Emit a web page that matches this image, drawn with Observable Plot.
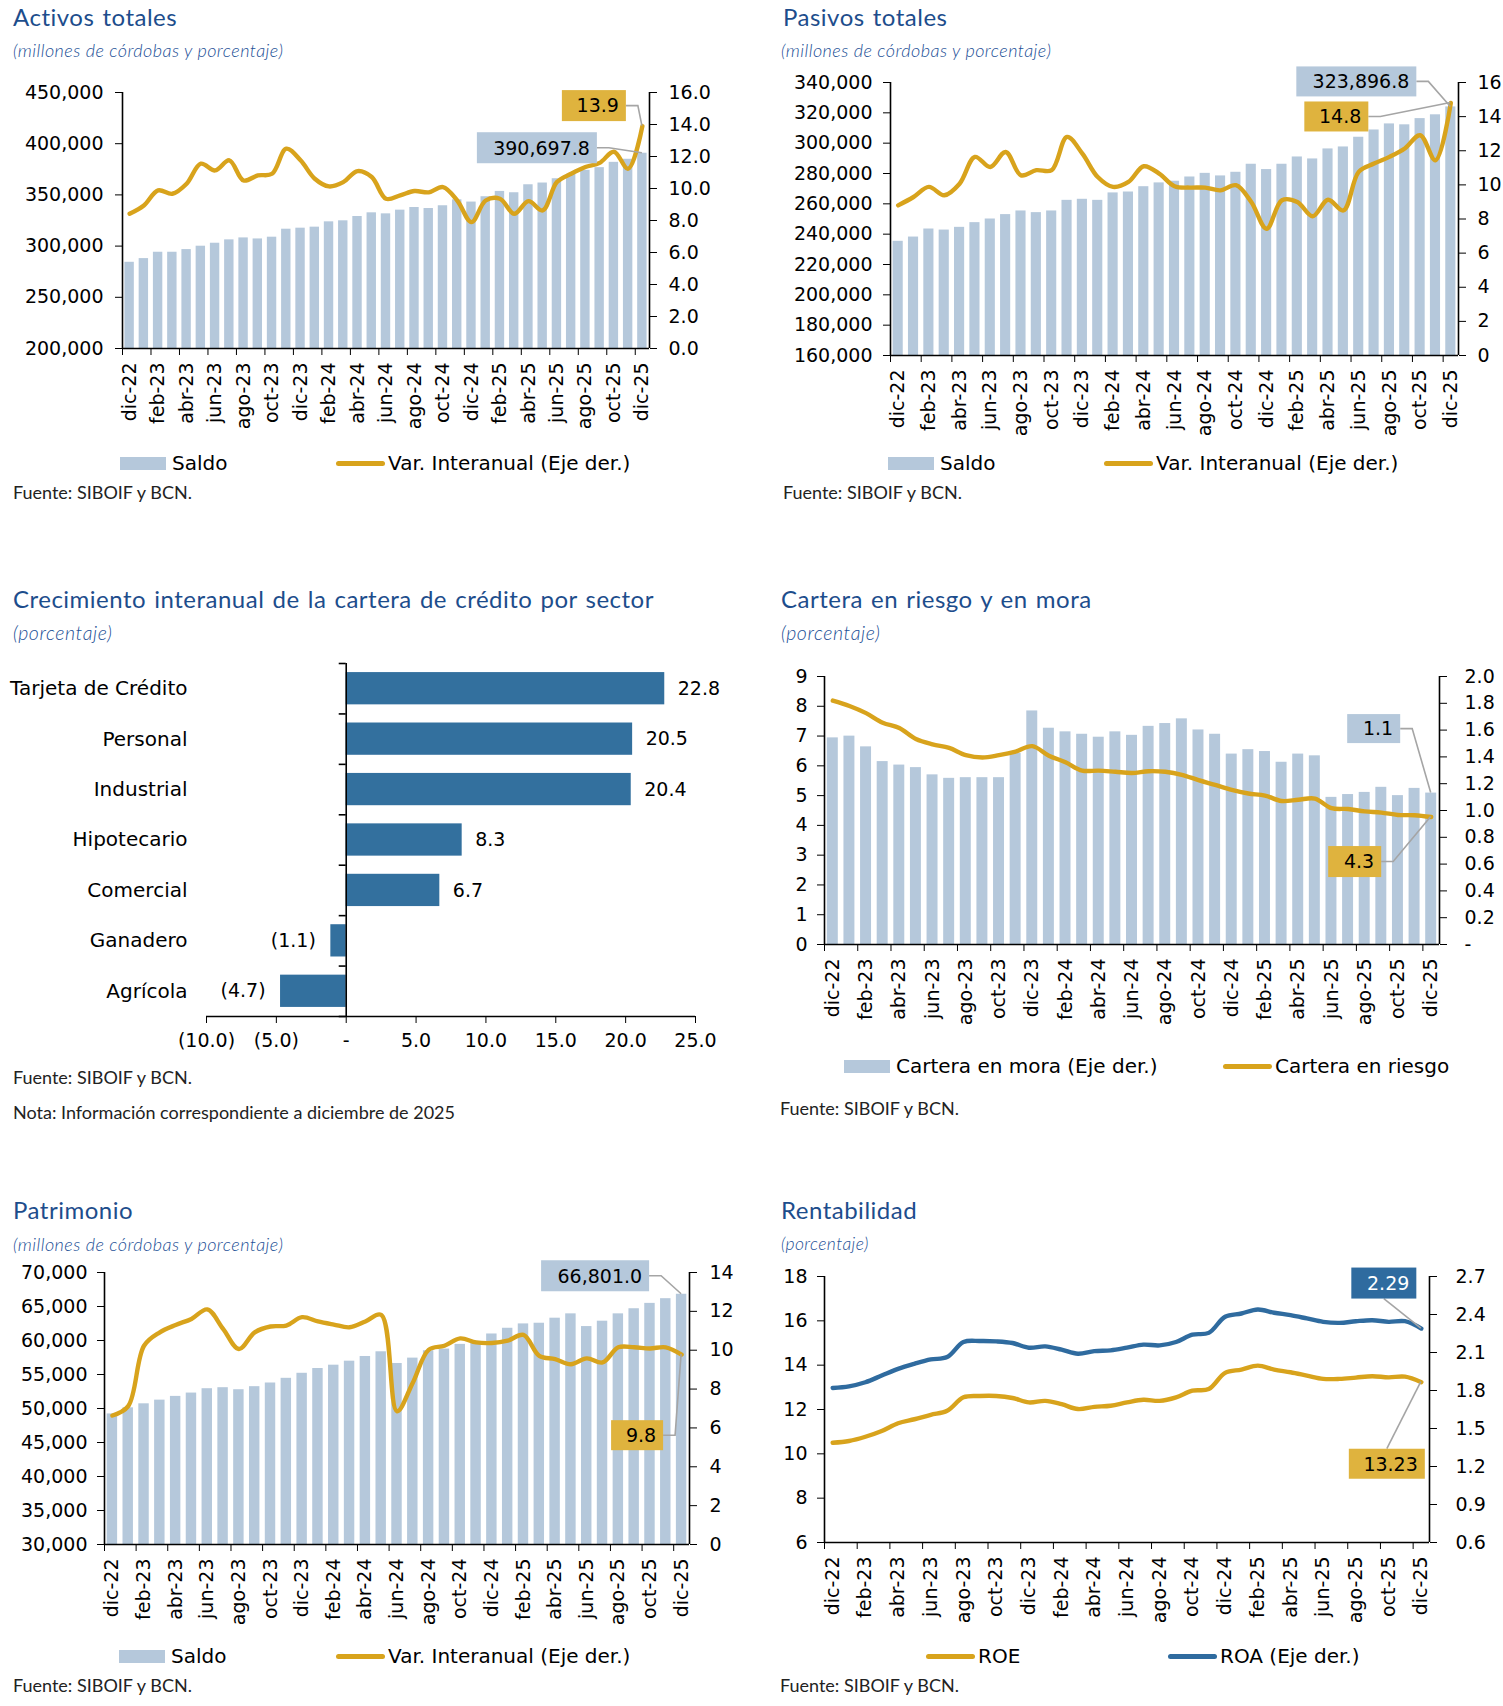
<!DOCTYPE html>
<html><head><meta charset="utf-8">
<script src="https://cdn.jsdelivr.net/npm/d3@7"></script>
<script src="https://cdn.jsdelivr.net/npm/@observablehq/plot@0.6"></script>
<style>
body{margin:0;background:#fff;}
#page{position:relative;width:1503px;height:1706px;overflow:hidden;background:#fff;}
.t{position:absolute;white-space:nowrap;line-height:1;}
.title{font-family:Lato;color:#1d4d8c;letter-spacing:0.5px;word-spacing:1.5px;}
.sub{font-family:Lato;font-style:italic;font-weight:300;color:#1c4f96;}
.src{font-family:Lato;color:#222;}
.leg{position:absolute;display:flex;align-items:center;height:24px;font-family:"DejaVu Sans";font-size:20px;color:#000;white-space:nowrap;}
.plot{position:absolute;}
</style></head><body><div id="page"></div>
<script>
// ---------- DATA ----------
const months = ["dic-22","ene-23","feb-23","mar-23","abr-23","may-23","jun-23","jul-23","ago-23","sep-23","oct-23","nov-23",
  "dic-23","ene-24","feb-24","mar-24","abr-24","may-24","jun-24","jul-24","ago-24","sep-24","oct-24","nov-24",
  "dic-24","ene-25","feb-25","mar-25","abr-25","may-25","jun-25","jul-25","ago-25","sep-25","oct-25","nov-25","dic-25"];

const activosSaldo = [284200,287800,294000,294000,296600,299900,302800,306100,308000,307000,308700,316500,
  317500,318500,323700,324700,328900,332500,331500,335100,337700,336700,339400,345200,
  343000,348200,353400,352100,359900,361600,365800,370100,374000,376600,381800,384800,390697.8];
const activosVar = [8.42,8.94,9.88,9.67,10.3,11.55,11.13,11.76,10.5,10.82,10.92,12.49,
  11.76,10.61,10.13,10.4,11.09,10.72,9.36,9.57,9.84,9.76,10.09,9.25,
  7.9,9.25,9.36,8.42,9.21,8.63,10.4,10.92,11.34,11.6,12.3,11.24,13.9];

const pasivosSaldo = [235300,238100,243400,242700,244500,247600,250000,252900,255300,254200,255300,262300,
  263000,262300,267200,267800,271300,273800,274900,277700,280100,278400,280800,286100,
  282600,286100,290900,289600,296200,297500,303900,308700,312700,312100,316200,318700,323896.8];
const pasivosVar = [8.8,9.29,9.88,9.39,10.07,11.64,11.05,11.93,10.56,10.86,10.86,12.81,
  11.83,10.46,9.88,10.17,11.09,10.66,9.92,9.84,9.84,9.68,9.98,9.0,
  7.43,9.1,9.0,8.16,9.13,8.5,10.76,11.25,11.64,12.13,12.91,11.44,14.8];

const sectores = ["Tarjeta de Crédito","Personal","Industrial","Hipotecario","Comercial","Ganadero","Agrícola"];
const crecimiento = [22.8,20.5,20.4,8.3,6.7,-1.1,-4.7];
const crecTicks = [-10,-5,0,5,10,15,20,25];

const carteraMora = [1.542,1.555,1.475,1.365,1.339,1.32,1.266,1.24,1.245,1.245,1.245,1.427,
  1.743,1.614,1.587,1.569,1.547,1.587,1.561,1.628,1.649,1.684,1.601,1.569,
  1.421,1.454,1.44,1.36,1.421,1.408,1.098,1.119,1.135,1.173,1.111,1.165,1.13];
const carteraRiesgo = [8.19,8.01,7.77,7.45,7.27,6.9,6.72,6.6,6.36,6.28,6.36,6.48,
  6.66,6.34,6.12,5.84,5.84,5.8,5.76,5.82,5.8,5.7,5.52,5.36,
  5.19,5.07,5.0,4.82,4.86,4.9,4.58,4.55,4.47,4.43,4.35,4.34,4.28];

const patrimonioSaldo = [49200,50100,50690,51230,51780,52270,52910,53060,52760,53210,53750,54440,
  55180,55880,56370,56960,57650,58340,56620,57410,58490,58740,59430,59830,
  60960,61800,62440,62540,63280,63920,62050,62840,63920,64670,65460,66150,66801.0];
const patrimonioVar = [6.64,7.12,10.23,10.92,11.3,11.61,12.1,11.1,10.06,10.92,11.22,11.27,
  11.7,11.48,11.32,11.18,11.48,11.82,6.86,8.33,10.02,10.23,10.61,10.4,
  10.37,10.49,10.79,9.71,9.54,9.28,9.58,9.37,10.15,10.15,10.09,10.15,9.77];

const roe = [10.5,10.58,10.77,11.03,11.38,11.56,11.76,11.94,12.55,12.61,12.61,12.52,
  12.32,12.39,12.24,12.02,12.12,12.17,12.32,12.44,12.39,12.55,12.85,12.92,
  13.65,13.8,13.98,13.8,13.68,13.53,13.38,13.38,13.44,13.5,13.45,13.48,13.23];
const roa = [1.82,1.833,1.865,1.918,1.971,2.011,2.045,2.064,2.183,2.191,2.188,2.175,
  2.138,2.148,2.122,2.09,2.111,2.117,2.138,2.162,2.156,2.183,2.241,2.255,
  2.382,2.408,2.44,2.414,2.395,2.369,2.342,2.334,2.347,2.355,2.342,2.347,2.289];

const activosLeftTicks = [200000,250000,300000,350000,400000,450000];
const activosRightTicks = [0,2,4,6,8,10,12,14,16];
const pasivosLeftTicks = [160000,180000,200000,220000,240000,260000,280000,300000,320000,340000];
const pasivosRightTicks = [0,2,4,6,8,10,12,14,16];
const carteraLeftTicks = [0,1,2,3,4,5,6,7,8,9];
const carteraRightTicks = [0,0.2,0.4,0.6,0.8,1.0,1.2,1.4,1.6,1.8,2.0];
const patrimonioLeftTicks = [30000,35000,40000,45000,50000,55000,60000,65000,70000];
const patrimonioRightTicks = [0,2,4,6,8,10,12,14];
const roeTicks = [6,8,10,12,14,16,18];
const roaTicks = [0.6,0.9,1.2,1.5,1.8,2.1,2.4,2.7];

// ---------- STYLE ----------
const GOLD = "#d8a31c", LBLUE = "#b5c8db", BOXGOLD = "#dfb33e", DBLUE = "#33709e", ROABLUE = "#2f6b9f";
const page = document.getElementById("page");
const fmtComma = d3.format(",");
const f1 = d3.format(".1f"), f2 = d3.format(".2f"), fc1 = d3.format(",.1f");

function txt(cls, str, x, baseline, size, ls) {
  const d = document.createElement("div");
  d.className = "t " + cls; d.textContent = str;
  d.style.left = x + "px"; d.style.fontSize = size + "px";
  if (ls !== undefined) d.style.letterSpacing = ls + "px";
  d.style.top = (baseline - 0.887 * size) + "px";
  page.appendChild(d);
}
function legend(items, cy) {
  for (const it of items) {
    const d = document.createElement("div");
    d.className = "leg";
    d.style.left = it.x + "px"; d.style.top = (cy - 12) + "px";
    const sw = document.createElement("span");
    sw.style.display = "inline-block";
    if (it.type === "rect") { sw.style.width = "46px"; sw.style.height = "13px"; sw.style.background = it.color; sw.style.marginRight = "6px"; }
    else { sw.style.width = "49px"; sw.style.height = "5px"; sw.style.borderRadius = "2.5px"; sw.style.background = it.color; sw.style.marginRight = "3px"; }
    d.appendChild(sw);
    const s = document.createElement("span"); s.textContent = it.label; d.appendChild(s);
    page.appendChild(d);
  }
}
function place(svg, left, top, w, h) {
  const d = document.createElement("div");
  d.className = "plot";
  d.style.left = left + "px"; d.style.top = top + "px"; d.style.width = w + "px"; d.style.height = h + "px";
  d.appendChild(svg); page.appendChild(d);
}
function callouts(svg, list) {
  const sx = svg.scale("x"), sy = svg.scale("y");
  const g = d3.select(svg).append("g");
  for (const c of list) {
    const X = sx.apply(c.x), Y = sy.apply(c.y);
    const cx = X + c.dx, cy = Y + c.dy;
    let pts;
    if (c.leader === "right") pts = [[cx + c.w / 2, cy], [cx + c.w / 2 + 12, cy], [X, Y]];
    else if (c.leader === "top") pts = [[cx, cy - c.h / 2], [X, Y]];
    else pts = [[cx, cy + c.h / 2], [X, Y]];
    g.append("path").attr("d", d3.line()(pts)).attr("fill", "none").attr("stroke", "#a5a5a5").attr("stroke-width", 1.6);
    g.append("rect").attr("x", cx - c.w / 2).attr("y", cy - c.h / 2).attr("width", c.w).attr("height", c.h).attr("fill", c.fill);
    g.append("text").attr("x", cx + c.w / 2 - 7).attr("y", cy).attr("dy", "0.36em").attr("text-anchor", "end")
      .attr("fill", c.color || "#000").attr("font-size", 19).attr("font-family", "DejaVu Sans").text(c.text);
  }
}

const idx = d3.range(months.length);
const plotStyle = {fontFamily: "DejaVu Sans", fontSize: "19px", background: "transparent", overflow: "visible", color: "#000"};

function dualPanel(cfg) {
  const [p0, p1] = cfg.yDomain, [s0, s1] = cfg.y2Domain;
  const toP = v => p0 + (v - s0) / (s1 - s0) * (p1 - p0);
  const fromP = v => s0 + (v - p0) / (p1 - p0) * (s1 - s0);
  const [mt, mr, mb, ml] = cfg.margins;
  const marks = [];
  if (cfg.bars) {
    const b = cfg.bars;
    marks.push(Plot.rect(idx, {x1: i => i - 0.33, x2: i => i + 0.33, y1: () => p0,
      y2: i => b.right ? toP(b.values[i]) : b.values[i], fill: LBLUE}));
  }
  for (const l of cfg.lines) {
    marks.push(Plot.line(idx, {x: i => i, y: i => l.right ? toP(l.values[i]) : l.values[i],
      stroke: l.color, strokeWidth: 4.4, curve: "catmull-rom", strokeLinecap: "round", strokeLinejoin: "round"}));
  }
  marks.push(
    Plot.ruleX([-0.5], {stroke: "#000", strokeWidth: 1.6}),
    Plot.ruleX([36.5], {stroke: "#000", strokeWidth: 1.6}),
    Plot.ruleY([p0], {stroke: "#000", strokeWidth: 1.6}),
    Plot.axisY(cfg.leftTicks, {anchor: "left", tickSize: 7, tickPadding: cfg.lp, tickFormat: cfg.leftFmt, label: null}),
    Plot.axisY(cfg.rightTicks.map(toP), {anchor: "right", tickSize: 7, tickPadding: cfg.rp,
      tickFormat: v => cfg.rightFmt(Math.round(fromP(v) * 1000) / 1000), label: null}),
    Plot.axisX(d3.range(0, 37, 2), {anchor: "bottom", tickFormat: i => months[i], tickRotate: -90, tickSize: 0, tickPadding: 14, label: null}),
    Plot.axisX(d3.range(-0.5, 36, 2), {anchor: "bottom", tickFormat: () => "", tickSize: 7, label: null})
  );
  const svg = Plot.plot({
    width: cfg.w, height: cfg.h, marginTop: mt, marginRight: mr, marginBottom: mb, marginLeft: ml,
    x: {domain: [-0.5, 36.5]}, y: {domain: [p0, p1]}, style: plotStyle, marks
  });
  place(svg, cfg.left, cfg.top, cfg.w, cfg.h);
  callouts(svg, cfg.callouts(toP));
}

// ---------- Panel 1: Activos ----------
txt("title", "Activos totales", 13, 26, 24);
txt("sub", "(millones de córdobas y porcentaje)", 13, 57, 18, 0.45);
dualPanel({left: 0, top: 70, w: 750, h: 380, margins: [22, 101, 102, 122],
  yDomain: [200000, 450000], y2Domain: [0, 16],
  leftTicks: activosLeftTicks, rightTicks: activosRightTicks, leftFmt: fmtComma, rightFmt: f1, lp: 12, rp: 12,
  bars: {values: activosSaldo}, lines: [{values: activosVar, right: true, color: GOLD}],
  callouts: toP => [
    {x: 36, y: activosSaldo[36], text: fc1(activosSaldo[36]), fill: LBLUE, dx: -105, dy: -5, w: 120, h: 31, leader: "right"},
    {x: 36, y: toP(activosVar[36]), text: f1(activosVar[36]), fill: BOXGOLD, dx: -48, dy: -20, w: 64, h: 31, leader: "right"}
  ]});
legend([{type: "rect", x: 120, color: LBLUE, label: "Saldo"}, {type: "line", x: 336, color: GOLD, label: "Var. Interanual (Eje der.)"}], 463);
txt("src", "Fuente: SIBOIF y BCN.", 13, 499, 18);

// ---------- Panel 2: Pasivos ----------
txt("title", "Pasivos totales", 783, 26, 24);
txt("sub", "(millones de córdobas y porcentaje)", 781, 57, 18, 0.45);
dualPanel({left: 750, top: 60, w: 753, h: 390, margins: [22, 45, 95, 140],
  yDomain: [160000, 340000], y2Domain: [0, 16],
  leftTicks: pasivosLeftTicks, rightTicks: pasivosRightTicks, leftFmt: fmtComma, rightFmt: d3.format("d"), lp: 11, rp: 12,
  bars: {values: pasivosSaldo}, lines: [{values: pasivosVar, right: true, color: GOLD}],
  callouts: toP => [
    {x: 36, y: pasivosSaldo[36], text: fc1(pasivosSaldo[36]), fill: LBLUE, dx: -94, dy: -25, w: 120, h: 30, leader: "right"},
    {x: 36, y: toP(pasivosVar[36]), text: f1(pasivosVar[36]), fill: BOXGOLD, dx: -114, dy: 14, w: 64, h: 30, leader: "right"}
  ]});
legend([{type: "rect", x: 888, color: LBLUE, label: "Saldo"}, {type: "line", x: 1104, color: GOLD, label: "Var. Interanual (Eje der.)"}], 463);
txt("src", "Fuente: SIBOIF y BCN.", 783, 499, 18);

// ---------- Panel 3: Crecimiento por sector ----------
txt("title", "Crecimiento interanual de la cartera de crédito por sector", 13, 608, 24);
txt("sub", "(porcentaje)", 13, 640, 19.5, 0.6);
{
  const fmt3 = v => v < 0 ? "(" + f1(-v) + ")" : v === 0 ? "-" : f1(v);
  const rows = sectores.map((s, i) => ({s, i, v: crecimiento[i]}));
  const W = 750, H = 420, mt = 13, mr = 55, mb = 54, ml = 206;
  const pxPerUnit = (W - ml - mr) / (crecTicks[crecTicks.length - 1] - crecTicks[0]);
  const svg = Plot.plot({
    width: W, height: H, marginTop: mt, marginRight: mr, marginBottom: mb, marginLeft: ml,
    x: {domain: [crecTicks[0], crecTicks[crecTicks.length - 1]]}, y: {domain: [-0.5, sectores.length - 0.5], reverse: true},
    style: plotStyle,
    marks: [
      Plot.rect(rows, {x1: 0, x2: "v", y1: d => d.i - 0.32, y2: d => d.i + 0.32, fill: DBLUE}),
      Plot.ruleX([0], {stroke: "#000", strokeWidth: 1.6}),
      Plot.ruleY([sectores.length - 0.5], {stroke: "#000", strokeWidth: 1.6}),
      Plot.ruleY(d3.range(-0.5, sectores.length, 1), {x1: -7 / pxPerUnit, x2: 0, stroke: "#000", strokeWidth: 1.6}),
      Plot.axisY(d3.range(sectores.length), {anchor: "left", tickSize: 0, tickPadding: 19, tickFormat: i => sectores[i], fontSize: 20, label: null}),
      Plot.axisX(crecTicks, {anchor: "bottom", tickSize: 7, tickPadding: 10, tickFormat: fmt3, label: null}),
      Plot.text(rows.filter(d => d.v >= 0), {x: "v", y: "i", text: d => fmt3(d.v), textAnchor: "start", dx: 13, fill: "#000"}),
      Plot.text(rows.filter(d => d.v < 0), {x: "v", y: "i", text: d => fmt3(d.v), textAnchor: "end", dx: -15, fill: "#000"})
    ]
  });
  place(svg, 0, 650, W, H);
}
txt("src", "Fuente: SIBOIF y BCN.", 13, 1084, 18);
txt("src", "Nota: Información correspondiente a diciembre de 2025", 13, 1119, 18);

// ---------- Panel 4: Cartera en riesgo y en mora ----------
txt("title", "Cartera en riesgo y en mora", 781, 608, 24);
txt("sub", "(porcentaje)", 781, 640, 19.5, 0.6);
dualPanel({left: 750, top: 655, w: 753, h: 370, margins: [21, 64, 81, 74],
  yDomain: [0, 9], y2Domain: [0, 2],
  leftTicks: carteraLeftTicks, rightTicks: carteraRightTicks, leftFmt: d3.format("d"), rightFmt: v => v === 0 ? "-" : f1(v), lp: 10, rp: 18,
  bars: {values: carteraMora, right: true}, lines: [{values: carteraRiesgo, right: false, color: GOLD}],
  callouts: toP => [
    {x: 36, y: toP(carteraMora[36]), text: f1(carteraMora[36]), fill: LBLUE, dx: -57, dy: -64, w: 53, h: 29, leader: "right"},
    {x: 36, y: carteraRiesgo[36], text: f1(carteraRiesgo[36]), fill: BOXGOLD, dx: -76, dy: 45, w: 53, h: 31, leader: "right"}
  ]});
legend([{type: "rect", x: 844, color: LBLUE, label: "Cartera en mora (Eje der.)"}, {type: "line", x: 1223, color: GOLD, label: "Cartera en riesgo"}], 1066);
txt("src", "Fuente: SIBOIF y BCN.", 780, 1115, 18);

// ---------- Panel 5: Patrimonio ----------
txt("title", "Patrimonio", 13, 1219, 24);
txt("sub", "(millones de córdobas y porcentaje)", 13, 1251, 18, 0.45);
dualPanel({left: 0, top: 1255, w: 750, h: 375, margins: [17, 61, 86, 104],
  yDomain: [30000, 70000], y2Domain: [0, 14],
  leftTicks: patrimonioLeftTicks, rightTicks: patrimonioRightTicks, leftFmt: fmtComma, rightFmt: d3.format("d"), lp: 10, rp: 13,
  bars: {values: patrimonioSaldo}, lines: [{values: patrimonioVar, right: true, color: GOLD}],
  callouts: toP => [
    {x: 36, y: patrimonioSaldo[36], text: fc1(patrimonioSaldo[36]), fill: LBLUE, dx: -86, dy: -18, w: 108, h: 31, leader: "right"},
    {x: 36, y: toP(patrimonioVar[36]), text: f1(patrimonioVar[36]), fill: BOXGOLD, dx: -44, dy: 81, w: 52, h: 30, leader: "right"}
  ]});
legend([{type: "rect", x: 119, color: LBLUE, label: "Saldo"}, {type: "line", x: 336, color: GOLD, label: "Var. Interanual (Eje der.)"}], 1656);
txt("src", "Fuente: SIBOIF y BCN.", 13, 1692, 18);

// ---------- Panel 6: Rentabilidad ----------
txt("title", "Rentabilidad", 781, 1219, 24);
txt("sub", "(porcentaje)", 781, 1251, 17.5, 0.4);
dualPanel({left: 750, top: 1255, w: 753, h: 375, margins: [21, 74, 88, 74],
  yDomain: [6, 18], y2Domain: [0.6, 2.7],
  leftTicks: roeTicks, rightTicks: roaTicks, leftFmt: d3.format("d"), rightFmt: f1, lp: 10, rp: 19,
  bars: null, lines: [{values: roe, right: false, color: GOLD}, {values: roa, right: true, color: ROABLUE}],
  callouts: toP => [
    {x: 36, y: toP(roa[36]), text: f2(roa[36]), fill: ROABLUE, color: "#fff", dx: -37, dy: -45, w: 65, h: 31, leader: "bottom"},
    {x: 36, y: roe[36], text: f2(roe[36]), fill: BOXGOLD, dx: -34, dy: 82, w: 76, h: 30, leader: "top"}
  ]});
legend([{type: "line", x: 926, color: GOLD, label: "ROE"}, {type: "line", x: 1168, color: ROABLUE, label: "ROA (Eje der.)"}], 1656);
txt("src", "Fuente: SIBOIF y BCN.", 780, 1692, 18);
</script></body></html>
